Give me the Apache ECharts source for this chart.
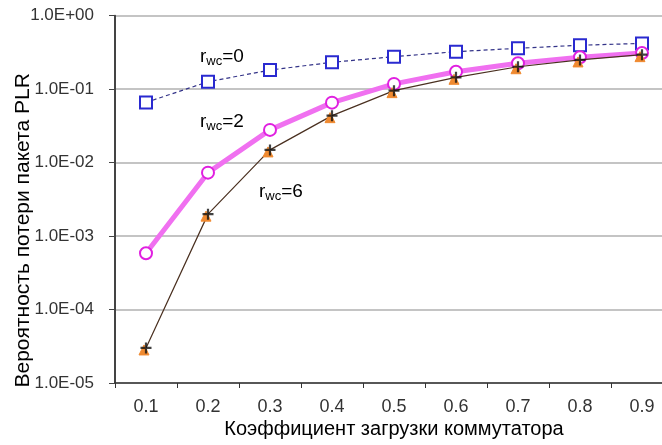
<!DOCTYPE html>
<html>
<head>
<meta charset="utf-8">
<script src="https://cdn.jsdelivr.net/npm/echarts@6/dist/echarts.min.js"></script>
<style>html,body{margin:0;padding:0;background:#fff}#c{width:662px;height:445px}</style>
</head>
<body>
<div id="c"></div>
<script>
const categories = ['0.1','0.2','0.3','0.4','0.5','0.6','0.7','0.8','0.9'];
const rwc0 = [0.066, 0.126, 0.182, 0.232, 0.277, 0.324, 0.36, 0.396, 0.42];
const rwc2 = [5.85e-4, 7.3e-3, 0.0279, 0.0655, 0.118, 0.173, 0.225, 0.272, 0.31];
const rwc6 = [3.0e-5, 1.99e-3, 0.0149, 0.0436, 0.0955, 0.145, 0.202, 0.25, 0.295];
const yTickLabels = ['1.0E-05','1.0E-04','1.0E-03','1.0E-02','1.0E-01','1.0E+00'];
const seriesNames = ['rwc=0','rwc=2','rwc=6'];

const FONT = 'Liberation Sans, Arial, sans-serif';
const chart = echarts.init(document.getElementById('c'), null, {renderer:'canvas'});

function curveLabel(txt, left, top) {
  return {
    type: 'text', left: left, top: top,
    style: {
      rich: {
        m: {fontSize: 19, fontFamily: FONT, fill: '#000', lineHeight: 22, verticalAlign: 'middle'},
        s: {fontSize: 13, fontFamily: FONT, fill: '#000', lineHeight: 11, verticalAlign: 'bottom'}
      },
      text: '{m|r}{s|wc}{m|=' + txt + '}'
    }
  };
}

chart.setOption({
  animation: false,
  backgroundColor: '#fff',
  grid: {left: 115, top: 15.7, bottom: 62, right: -11, containLabel: false, outerBoundsMode: 'none'},
  xAxis: {
    type: 'category',
    data: categories,
    boundaryGap: true,
    name: 'Коэффициент загрузки коммутатора',
    nameLocation: 'middle',
    nameGap: 36,
    nameMoveOverlap: false,
    nameTextStyle: {fontSize: 20, fontFamily: FONT, color: '#000'},
    axisLine: {lineStyle: {color: '#333', width: 1.5}},
    axisTick: {show: true, alignWithLabel: false, length: 5, lineStyle: {color: '#333'}},
    axisLabel: {fontSize: 18, fontFamily: FONT, color: '#333', margin: 15},
    splitLine: {show: false}
  },
  yAxis: {
    type: 'log',
    logBase: 10,
    min: 1e-5,
    max: 1,
    name: 'Вероятность потери пакета PLR',
    nameLocation: 'middle',
    nameGap: 81,
    nameRotate: 90,
    nameMoveOverlap: false,
    nameTextStyle: {fontSize: 21, fontFamily: FONT, color: '#000', padding: [0, 62, 0, 0]},
    axisLine: {show: true, lineStyle: {color: '#444', width: 2}},
    axisTick: {show: true, length: 6, lineStyle: {color: '#444'}},
    axisLabel: {
      fontSize: 17, fontFamily: FONT, color: '#333', margin: 21,
      formatter: function (v) {
        const e = Math.round(Math.log10(v));
        return yTickLabels[e + 5] || '';
      }
    },
    splitLine: {show: true, lineStyle: {color: '#b0b0b0', width: 1.5}},
    minorTick: {show: false}
  },
  series: [
    {
      name: seriesNames[0], type: 'line', data: rwc0,
      symbol: 'rect', symbolSize: 12,
      itemStyle: {color: '#fff', borderColor: '#2a2ad0', borderWidth: 2},
      lineStyle: {color: '#333388', width: 1.2, type: [4, 3]},
      z: 3
    },
    {
      name: seriesNames[1], type: 'line', data: rwc2,
      symbol: 'circle', symbolSize: 12,
      itemStyle: {color: '#fff', borderColor: '#e020e0', borderWidth: 2},
      lineStyle: {color: '#f070f0', width: 5},
      z: 4
    },
    {
      name: seriesNames[2], type: 'line', data: rwc6,
      symbol: 'triangle', symbolSize: 10, symbolOffset: [-2, 2],
      itemStyle: {color: '#f08a30', borderColor: '#f08a30'},
      lineStyle: {color: '#4a3020', width: 1.2},
      z: 5
    },
    {
      name: seriesNames[2] + ' +', type: 'scatter', data: rwc6,
      symbol: 'path://M4,0 L6,0 L6,4 L10,4 L10,6 L6,6 L6,10 L4,10 L4,6 L0,6 L0,4 L4,4 Z',
      symbolSize: 11,
      itemStyle: {color: '#111'},
      z: 6
    }
  ],
  graphic: [
    curveLabel('0', 200, 47),
    curveLabel('2', 200, 112),
    curveLabel('6', 259, 182)
  ]
});
</script>
</body>
</html>
